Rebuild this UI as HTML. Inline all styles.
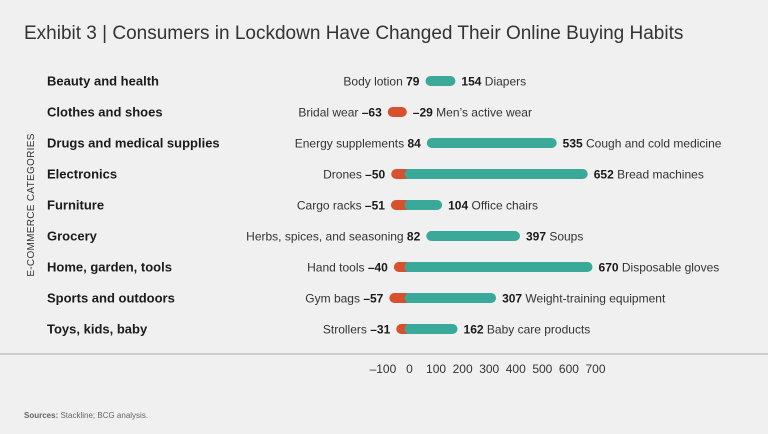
<!DOCTYPE html>
<html><head><meta charset="utf-8"><style>
html,body{margin:0;padding:0;background:#f0f0f0;}
svg{display:block;font-family:"Liberation Sans",sans-serif;}
</style></head><body>
<svg id="chart" width="768" height="434" viewBox="0 0 768 434">
<rect width="768" height="434" fill="#f0f0f0"/>
<text x="24" y="39" font-size="19" fill="#333">Exhibit 3 | Consumers in Lockdown Have Changed Their Online Buying Habits</text>
<text transform="translate(34,205) rotate(-90)" text-anchor="middle" font-size="10" fill="#333" letter-spacing="0.3">E-COMMERCE CATEGORIES</text>
<line x1="0" y1="354" x2="768" y2="354" stroke="#aaa" stroke-width="1"/>
<g id="rows"></g>
<g id="ticks"></g>
<text x="24" y="418" font-size="8" fill="#666"><tspan font-weight="bold">Sources:</tspan> Stackline; BCG analysis.</text>
</svg>
<script>
const categories=["Beauty and health","Clothes and shoes","Drugs and medical supplies","Electronics","Furniture","Grocery","Home, garden, tools","Sports and outdoors","Toys, kids, baby"];
const minValues=[79,-63,84,-50,-51,82,-40,-57,-31];
const maxValues=[154,-29,535,652,104,397,670,307,162];
const minLabels=["Body lotion","Bridal wear","Energy supplements","Drones","Cargo racks","Herbs, spices, and seasoning","Hand tools","Gym bags","Strollers"];
const maxLabels=["Diapers","Men’s active wear","Cough and cold medicine","Bread machines","Office chairs","Soups","Disposable gloves","Weight-training equipment","Baby care products"];
const tickValues=[-100,0,100,200,300,400,500,600,700];
const tickLabels=["–100","0","100","200","300","400","500","600","700"];
const NS="http://www.w3.org/2000/svg";
const x0=409.5, k=0.2657;
const xs=v=>x0+v*k;
const ys=i=>81+i*31;
const TEAL="#3aa99a", RED="#d9502f";
function mk(tag,attrs,parent,txt){const e=document.createElementNS(NS,tag);for(const a in attrs)e.setAttribute(a,attrs[a]);if(txt!==undefined)e.textContent=txt;parent.appendChild(e);return e;}
const rows=document.getElementById('rows');
const fmt=v=>v<0?"–"+Math.abs(v):String(v);
categories.forEach((c,i)=>{
  const y=ys(i);
  const g=mk('g',{},rows);
  
  
  const t=mk('text',{x:47,y:y+4.5,'font-size':13,'font-weight':'bold',fill:'#1a1a1a'},g,c);
  
  
  const a=minValues[i], b=maxValues[i];
  function seg(v1,v2,col,name){
    const l=mk('line',{x1:xs(v1),y1:y,x2:xs(v2),y2:y,stroke:col,'stroke-width':10,'stroke-linecap':'round'},g);
    
    
  }
  if(a<0&&b>0){seg(a,0,RED,'bar-negative');seg(0,b,TEAL,'bar-positive');
    const l2=mk('line',{x1:xs(0)-3,y1:y,x2:xs(0)+3,y2:y,stroke:TEAL,'stroke-width':10},g);
    }
  else if(b<=0){seg(a,b,RED,'bar-negative');}
  else{seg(a,b,TEAL,'bar-positive');}
  const lt=mk('text',{x:xs(a)-11,y:y+4.5,'font-size':12,'text-anchor':'end',fill:'#333'},g);
  
  
  mk('tspan',{},lt,minLabels[i]+" ");
  mk('tspan',{'font-weight':'bold',fill:'#1a1a1a'},lt,fmt(a));
  const rt=mk('text',{x:xs(b)+11,y:y+4.5,'font-size':12,fill:'#333'},g);
  
  
  mk('tspan',{'font-weight':'bold',fill:'#1a1a1a'},rt,fmt(b));
  mk('tspan',{},rt," "+maxLabels[i]);
});
const tg=document.getElementById('ticks');
tickValues.forEach((v,i)=>{
  const t=mk('text',{x:xs(v),y:373,'font-size':12,'text-anchor':'middle',fill:'#333'},tg,tickLabels[i]);
  
  
});
</script>
</body></html>
